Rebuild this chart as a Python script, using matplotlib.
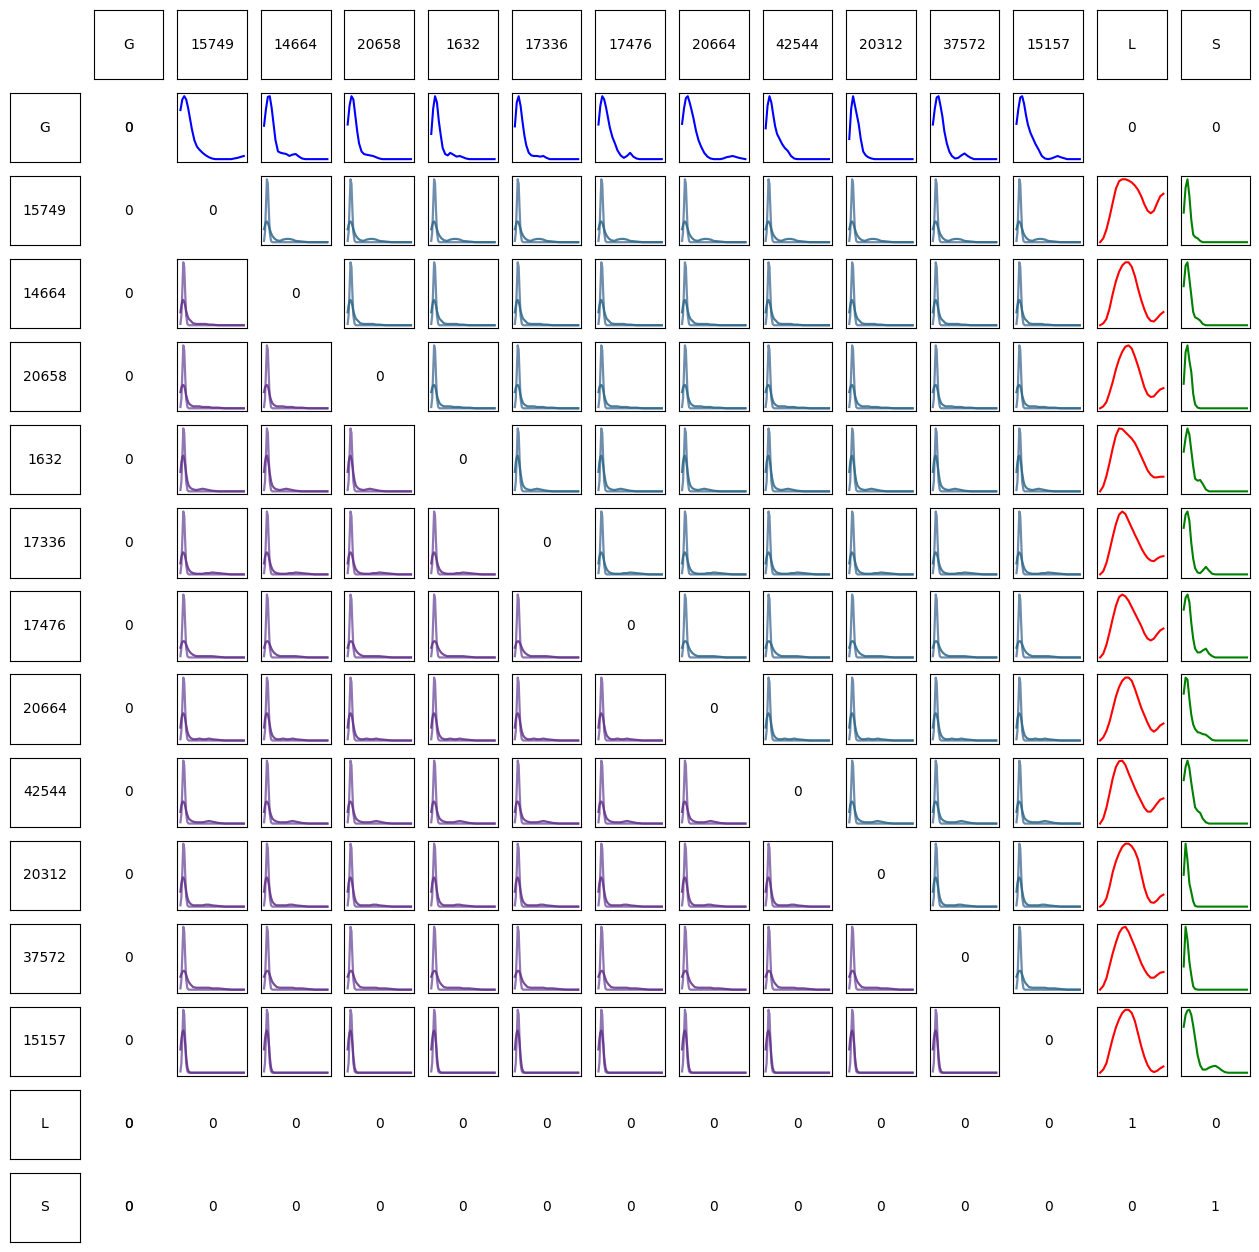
import numpy as np
import matplotlib.pyplot as plt

# labels along the top and down the left side
genes = ['15749', '14664', '20658', '1632', '17336', '17476',
         '20664', '42544', '20312', '37572', '15157']
labels = ['G'] + genes + ['L', 'S']

# x positions of the read-off samples (fraction of each panel's range)
peak_x = [0, .03, .06, .09, .12, .15, .18, .22, .26, .30, .35,
          .40, .45, .50, .55, .60, .65, .70, .80, .90, 1.0]
red_x = [0, .05, .1, .15, .2, .25, .3, .35, .4, .45, .5,
         .55, .6, .65, .7, .75, .8, .85, .9, .95, 1.0]
pair_x = [0, .015, .03, .045, .06, .075, .09, .11, .13, .16, .2,
          .25, .3, .35, .4, .45, .5, .6, .7, .8, .9, 1.0]

# blue densities in the G row (one per gene column)
blue_curves = [
    [.78, .95, 1, .95, .82, .65, .48, .30, .20, .15, .10, .06, .03, .01, 0, 0, 0, 0, 0, .02, .05],
    [.52, .78, .97, .98, .80, .55, .30, .12, .10, .09, .08, .05, .07, .08, .04, .01, 0, 0, 0, 0, 0],
    [.55, .85, 1, .95, .70, .45, .25, .12, .08, .07, .06, .05, .03, .01, 0, 0, 0, 0, 0, 0, 0],
    [.40, .80, 1, .90, .60, .38, .18, .08, .06, .10, .07, .04, .05, .03, .01, 0, 0, 0, 0, 0, 0],
    [.52, .90, 1, .85, .60, .38, .22, .10, .06, .05, .05, .04, .05, .02, 0, 0, 0, 0, 0, 0, 0],
    [.55, .85, 1, .95, .82, .66, .50, .35, .25, .14, .06, .02, .05, .10, .04, .01, 0, 0, 0, 0, 0],
    [.56, .80, .97, 1, .90, .78, .65, .45, .30, .20, .10, .04, .01, 0, 0, 0, .01, .03, .05, .02, 0],
    [.49, .85, 1, .90, .70, .52, .40, .32, .24, .18, .13, .05, .01, 0, 0, 0, 0, 0, 0, 0, 0],
    [.32, .80, 1, .85, .70, .55, .33, .12, .06, .03, .01, 0, 0, 0, 0, 0, 0, 0, 0, 0, 0],
    [.55, .80, .98, 1, .85, .68, .45, .25, .12, .05, .01, .02, .06, .09, .05, .02, 0, 0, 0, 0, 0],
    [.56, .80, .98, 1, .88, .70, .55, .42, .33, .24, .15, .05, .01, 0, .01, .03, .05, .03, 0, 0, 0],
]

# red densities in the L column (one per gene row)
red_curves = [
    [0, .06, .20, .40, .63, .85, .97, 1, 1, .98, .95, .90, .83, .73, .60, .50, .46, .50, .62, .73, .77],
    [0, .03, .10, .27, .50, .70, .85, .95, 1, 1, .93, .78, .58, .40, .25, .13, .07, .06, .11, .17, .21],
    [0, .03, .10, .25, .42, .62, .78, .90, .98, 1, .95, .82, .67, .50, .33, .22, .18, .19, .25, .30, .32],
    [0, .08, .24, .45, .68, .88, .99, .98, .93, .88, .83, .76, .66, .55, .44, .33, .26, .22, .22, .23, .23],
    [0, .05, .18, .38, .60, .80, .95, 1, .96, .85, .74, .63, .53, .42, .33, .26, .22, .21, .25, .28, .29],
    [0, .06, .20, .40, .62, .82, .96, 1, .97, .90, .80, .70, .60, .50, .38, .30, .27, .30, .37, .43, .46],
    [0, .05, .15, .30, .50, .70, .85, .95, 1, 1, .95, .82, .67, .52, .40, .28, .18, .14, .18, .24, .27],
    [0, .08, .25, .48, .72, .90, .99, 1, .93, .80, .68, .56, .45, .35, .25, .19, .19, .25, .32, .38, .40],
    [0, .04, .13, .32, .55, .72, .85, .95, 1, 1, .96, .88, .75, .52, .30, .15, .07, .06, .10, .16, .19],
    [0, .06, .18, .38, .58, .75, .90, .98, 1, .92, .80, .68, .55, .42, .32, .24, .19, .19, .23, .27, .28],
    [0, .05, .15, .35, .55, .72, .85, .95, 1, 1, .95, .82, .62, .42, .25, .12, .04, .01, .03, .07, .10],
]

# green densities in the S column (one per gene row)
green_curves = [
    [.46, .85, .98, .72, .35, .12, .08, .06, .02, 0, 0, 0, 0, 0, 0, 0, 0, 0, 0, 0, 0],
    [.59, .90, .95, .70, .45, .20, .12, .10, .07, .02, 0, 0, 0, 0, 0, 0, 0, 0, 0, 0, 0],
    [.37, .85, .95, .72, .55, .22, .06, .01, 0, 0, 0, 0, 0, 0, 0, 0, 0, 0, 0, 0, 0],
    [.63, .85, 1, .90, .65, .40, .20, .17, .18, .12, .03, 0, 0, 0, 0, 0, 0, 0, 0, 0, 0],
    [.74, .95, 1, .85, .50, .25, .10, .03, .02, .06, .12, .06, .01, 0, 0, 0, 0, 0, 0, 0, 0],
    [.76, .95, 1, .88, .55, .30, .14, .08, .08, .11, .14, .06, .02, 0, 0, 0, 0, 0, 0, 0, 0],
    [.73, .98, .95, .65, .40, .25, .18, .13, .12, .10, .09, .05, .01, 0, 0, 0, 0, 0, 0, 0, 0],
    [.69, .90, 1, .88, .65, .45, .26, .20, .17, .08, .02, 0, 0, 0, 0, 0, 0, 0, 0, 0, 0],
    [.48, .95, .70, .35, .22, .08, .01, 0, 0, 0, 0, 0, 0, 0, 0, 0, 0, 0, 0, 0, 0],
    [.35, .95, .75, .42, .22, .05, .01, 0, 0, 0, 0, 0, 0, 0, 0, 0, 0, 0, 0, 0, 0],
    [.73, .92, .99, 1, .92, .75, .55, .28, .12, .05, .05, .08, .10, .11, .08, .04, .01, 0, 0, 0, 0],
]

# narrow spike shared by every pair panel
spike_curve = [.02, .15, .55, .97, .90, .50, .15, .02, 0, 0, 0, 0, 0, 0, 0, 0, 0, 0, 0, 0, 0, 0]

# broader density of the row gene in each pair panel
broad_curves = [
    [.20, .26, .31, .32, .30, .25, .20, .14, .10, .06, .03, .02, .04, .05, .05, .04, .02, .01, 0, 0, 0, 0],
    [.20, .30, .37, .39, .36, .30, .22, .15, .10, .07, .03, .02, .02, .02, .02, .01, .01, 0, 0, 0, 0, 0],
    [.25, .32, .35, .36, .34, .28, .20, .13, .08, .05, .03, .03, .03, .02, .02, .02, .01, .01, 0, 0, 0, 0],
    [.30, .45, .53, .55, .50, .40, .28, .16, .09, .05, .03, .02, .03, .04, .03, .02, .01, 0, 0, 0, 0, 0],
    [.17, .27, .32, .34, .32, .27, .20, .13, .08, .04, .02, .01, .01, .01, .02, .02, .03, .02, .01, 0, 0, 0],
    [.15, .20, .24, .25, .25, .23, .20, .15, .11, .07, .04, .02, .02, .02, .02, .02, .02, .01, 0, 0, 0, 0],
    [.20, .33, .40, .42, .40, .33, .24, .14, .08, .04, .02, .02, .03, .02, .02, .03, .02, .01, 0, 0, 0, 0],
    [.18, .28, .33, .34, .32, .27, .20, .13, .08, .05, .03, .02, .02, .02, .03, .04, .03, .01, 0, 0, 0, 0],
    [.23, .36, .43, .45, .42, .34, .24, .14, .08, .04, .02, .02, .02, .02, .03, .03, .02, .01, 0, 0, 0, 0],
    [.20, .24, .27, .29, .29, .27, .23, .17, .12, .08, .04, .03, .03, .03, .03, .03, .02, .02, .01, 0, 0, 0],
    [.36, .52, .62, .65, .60, .45, .25, .08, .02, 0, 0, 0, 0, 0, 0, 0, 0, 0, 0, 0, 0, 0],
]

n = len(labels)
fig, axes = plt.subplots(n + 1, n + 1, figsize=(12.59, 12.52), dpi=100)
fig.subplots_adjust(left=0.008, right=0.993, bottom=0.008, top=0.992,
                    wspace=0.2, hspace=0.2)


def box(ax):
    ax.set_xticks([])
    ax.set_yticks([])


def number(ax, txt, double=False):
    ax.axis('off')
    ax.text(0.5, 0.5, txt, ha='center', va='center', fontsize=10, transform=ax.transAxes)
    if double:
        ax.text(0.5, 0.5, txt, ha='center', va='center', fontsize=10, transform=ax.transAxes)


axes[0][0].axis('off')
for k, lab in enumerate(labels):
    for ax in (axes[0][k + 1], axes[k + 1][0]):
        box(ax)
        ax.text(0.5, 0.5, lab, ha='center', va='center', fontsize=10, transform=ax.transAxes)

for r, rl in enumerate(labels):
    for c, cl in enumerate(labels):
        ax = axes[r + 1][c + 1]
        if rl == 'G':
            if cl in genes:
                box(ax)
                ax.plot(peak_x, blue_curves[genes.index(cl)], color='blue', lw=1.5)
            else:
                number(ax, '0', double=(cl == 'G'))
        elif rl in genes:
            i = genes.index(rl)
            if cl == 'G':
                number(ax, '0')
            elif cl == 'L':
                box(ax)
                ax.plot(red_x, red_curves[i], color='red', lw=1.5)
            elif cl == 'S':
                box(ax)
                ax.plot(peak_x, green_curves[i], color='green', lw=1.5)
            elif cl == rl:
                number(ax, '0')
            else:
                box(ax)
                if c > r:
                    ax.plot(pair_x, spike_curve, color='#56799e', lw=1.6, alpha=0.85)
                    ax.plot(pair_x, broad_curves[i], color='#2c6888', lw=1.6, alpha=0.85)
                else:
                    ax.plot(pair_x, spike_curve, color='#7d5ea6', lw=1.6, alpha=0.85)
                    ax.plot(pair_x, broad_curves[i], color='#62308a', lw=1.6, alpha=0.85)
        else:
            if cl == 'G':
                number(ax, '0', double=True)
            else:
                number(ax, '1' if cl == rl else '0')

fig.savefig('out.png', dpi=100)
